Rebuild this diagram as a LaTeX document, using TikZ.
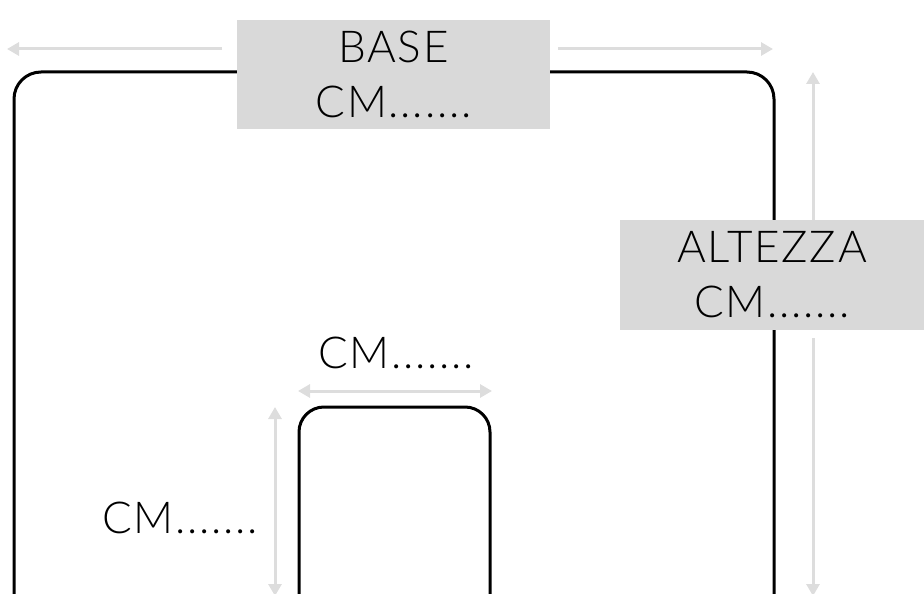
\documentclass[tikz,border=0pt]{standalone}
\usepackage{fontspec}
\IfFontExistsTF{Lato Light}{\setmainfont{Lato Light}[LetterSpace=4]}{\setmainfont{Lato}[LetterSpace=4]}
\usetikzlibrary{arrows.meta}
\definecolor{boxgray}{HTML}{D9D9D9}
\definecolor{arrgray}{HTML}{DDDDDD}
\tikzset{
  dimarrow/.style={draw=arrgray, line width=3pt, -{Triangle[length=12pt,width=13pt]}},
  dimboth/.style={draw=arrgray, line width=3pt, {Triangle[length=12pt,width=13pt]}-{Triangle[length=12pt,width=13pt]}},
  labelbox/.style={fill=boxgray, inner sep=0pt, align=center, font=\fontsize{44}{55}\selectfont},
  plainlabel/.style={font=\fontsize{44}{55}\selectfont, inner sep=0pt},
  outline/.style={draw=black, line width=3pt, rounded corners=27pt}
}
\begin{document}
\begin{tikzpicture}[x=1pt,y=-1pt]
\useasboundingbox (0,0) rectangle (924,594);
% outer frame
\draw[outline] (14,630) -- (14,72) -- (774,72) -- (774,630);
% inner frame
\draw[outline, rounded corners=25pt] (299,630) -- (299,407) -- (490,407) -- (490,630);
% label boxes
\node[labelbox, minimum width=313pt, minimum height=109pt] (base) at (393.5,74.5) {BASE\\CM.......};
\node[labelbox, minimum width=304pt, minimum height=110pt] (alt) at (772,275) {ALTEZZA\\CM.......};
\node[plainlabel] (win) at (396,353) {CM.......};
\node[plainlabel] (hin) at (180,518) {CM.......};
% arrow ends
\coordinate (bl0) at (222,49);
\coordinate (bl1) at (7,49);
\coordinate (br0) at (558,49);
\coordinate (br1) at (773,49);
\coordinate (at0) at (813,220);
\coordinate (at1) at (813,72);
\coordinate (ab0) at (813,338);
\coordinate (ab1) at (813,596);
\coordinate (wl) at (298,391);
\coordinate (wr) at (492,391);
\coordinate (ht) at (275,407);
\coordinate (hb) at (275,596);
\draw[dimarrow] (bl0) -- (bl1);
\draw[dimarrow] (br0) -- (br1);
\draw[dimarrow] (at0) -- (at1);
\draw[dimarrow] (ab0) -- (ab1);
\draw[dimboth] (wl) -- (wr);
\draw[dimboth] (ht) -- (hb);
\end{tikzpicture}
\end{document}
